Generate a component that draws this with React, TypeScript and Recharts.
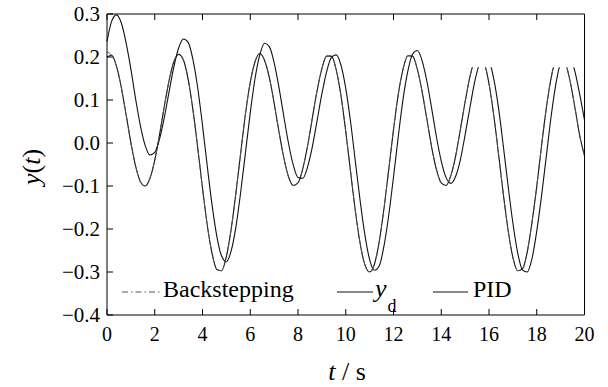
import React from 'react'
import { LineChart, Line, XAxis, YAxis, ReferenceArea } from 'recharts'

// time grid, s
const tSec = [
  0, 0.2, 0.4, 0.6, 0.8, 1, 1.2, 1.4, 1.6, 1.8,
  2, 2.2, 2.4, 2.6, 2.8, 3, 3.2, 3.4, 3.6, 3.8,
  4, 4.2, 4.4, 4.6, 4.8, 5, 5.2, 5.4, 5.6, 5.8,
  6, 6.2, 6.4, 6.6, 6.8, 7, 7.2, 7.4, 7.6, 7.8,
  8, 8.2, 8.4, 8.6, 8.8, 9, 9.2, 9.4, 9.6, 9.8,
  10, 10.2, 10.4, 10.6, 10.8, 11, 11.2, 11.4, 11.6, 11.8,
  12, 12.2, 12.4, 12.6, 12.8, 13, 13.2, 13.4, 13.6, 13.8,
  14, 14.2, 14.4, 14.6, 14.8, 15, 15.2, 15.4, 15.6, 15.8,
  16, 16.2, 16.4, 16.6, 16.8, 17, 17.2, 17.4, 17.6, 17.8,
  18, 18.2, 18.4, 18.6, 18.8, 19, 19.2, 19.4, 19.6, 19.8,
  20,
]

const ydRef = [
  0.200, 0.204, 0.178, 0.129, 0.066, 0.001, -0.054, -0.090, -0.100, -0.082,
  -0.040, 0.019, 0.085, 0.145, 0.189, 0.206, 0.193, 0.148, 0.077, -0.011,
  -0.105, -0.191, -0.257, -0.294, -0.297, -0.264, -0.201, -0.116, -0.023, 0.068,
  0.141, 0.189, 0.208, 0.192, 0.152, 0.093, 0.027, -0.033, -0.078, -0.099,
  -0.093, -0.060, -0.007, 0.058, 0.122, 0.173, 0.202, 0.202, 0.170, 0.110,
  0.027, -0.066, -0.157, -0.233, -0.283, -0.300, -0.282, -0.230, -0.153, -0.062,
  0.031, 0.113, 0.172, 0.203, 0.202, 0.171, 0.119, 0.055, -0.010, -0.062,
  -0.093, -0.099, -0.076, -0.031, 0.031, 0.096, 0.154, 0.192, 0.205, 0.187,
  0.138, 0.064, -0.026, -0.119, -0.203, -0.266, -0.297, -0.293, -0.254, -0.185,
  -0.101, -0.007, 0.081, 0.151, 0.194, 0.206, 0.187, 0.143, 0.082, 0.017,
  -0.030,
]

const backstepping = [
  0.212, 0.203, 0.178, 0.129, 0.066, 0.001, -0.054, -0.090, -0.100, -0.082,
  -0.040, 0.019, 0.085, 0.145, 0.189, 0.206, 0.193, 0.148, 0.077, -0.011,
  -0.105, -0.191, -0.257, -0.294, -0.297, -0.264, -0.201, -0.116, -0.023, 0.068,
  0.141, 0.189, 0.208, 0.192, 0.152, 0.093, 0.027, -0.033, -0.078, -0.099,
  -0.093, -0.060, -0.007, 0.058, 0.122, 0.173, 0.202, 0.202, 0.170, 0.110,
  0.027, -0.066, -0.157, -0.233, -0.283, -0.300, -0.282, -0.230, -0.153, -0.062,
  0.031, 0.113, 0.172, 0.203, 0.202, 0.171, 0.119, 0.055, -0.010, -0.062,
  -0.093, -0.099, -0.076, -0.031, 0.031, 0.096, 0.154, 0.192, 0.205, 0.187,
  0.138, 0.064, -0.026, -0.119, -0.203, -0.266, -0.297, -0.293, -0.254, -0.185,
  -0.101, -0.007, 0.081, 0.151, 0.194, 0.206, 0.187, 0.143, 0.082, 0.017,
  -0.030,
]

const pid = [
  0.236, 0.284, 0.298, 0.279, 0.233, 0.172, 0.102, 0.040, -0.006, -0.028,
  -0.022, 0.009, 0.059, 0.119, 0.177, 0.221, 0.242, 0.234, 0.194, 0.128,
  0.041, -0.054, -0.144, -0.217, -0.263, -0.276, -0.251, -0.195, -0.114, -0.022,
  0.070, 0.150, 0.205, 0.232, 0.224, 0.187, 0.130, 0.064, 0.000, -0.051,
  -0.080, -0.082, -0.056, -0.009, 0.052, 0.114, 0.166, 0.199, 0.205, 0.181,
  0.127, 0.050, -0.042, -0.133, -0.213, -0.271, -0.296, -0.286, -0.240, -0.168,
  -0.079, 0.015, 0.102, 0.167, 0.207, 0.215, 0.191, 0.143, 0.080, 0.014,
  -0.042, -0.080, -0.094, -0.078, -0.039, 0.019, 0.082, 0.142, 0.184, 0.203,
  0.192, 0.149, 0.081, -0.007, -0.100, -0.186, -0.255, -0.295, -0.300, -0.269,
  -0.205, -0.123, -0.031, 0.061, 0.137, 0.188, 0.210, 0.201, 0.166, 0.113,
  0.053,
]

const xTicks = [0, 2, 4, 6, 8, 10, 12, 14, 16, 18, 20]
const yTicks = [-0.4, -0.3, -0.2, -0.1, 0, 0.1, 0.2, 0.3]

const FONT = "'Liberation Serif', 'DejaVu Serif', 'Times New Roman', Times, serif"

const rows = tSec.map((t, i) => ({ t, yd: ydRef[i], bs: backstepping[i], pid: pid[i] }))

const fmtY = (v: number) => (v < -1e-9 ? '\u2212' : '') + Math.abs(v).toFixed(1)
const noLabel = () => <g />

export default function App() {
  return (
    <div style={{ position: 'absolute', left: 0, top: 0, width: 608, height: 387, background: '#fff', fontFamily: FONT }}>
      <LineChart
        width={608}
        height={387}
        data={rows}
        margin={{ top: 13, right: 22.5, left: 47, bottom: 32 }}
        style={{ fontFamily: FONT }}
      >
        <XAxis
          xAxisId="b"
          dataKey="t"
          type="number"
          domain={[0, 20]}
          ticks={xTicks}
          height={40}
          tickSize={-6}
          tickMargin={18}
          stroke="#000"
          tick={{ fill: '#000', fontSize: 20, style: { fontFamily: FONT } }}
        />
        <XAxis
          xAxisId="top"
          orientation="top"
          dataKey="t"
          type="number"
          domain={[0, 20]}
          ticks={xTicks}
          height={1}
          tickSize={-6}
          stroke="#000"
          tick={noLabel}
        />
        <YAxis
          yAxisId="l"
          type="number"
          domain={[-0.4, 0.3]}
          ticks={yTicks}
          width={60}
          tickSize={-6}
          tickMargin={13}
          tickFormatter={fmtY}
          stroke="#000"
          tick={{ fill: '#000', fontSize: 21, style: { fontFamily: FONT } }}
        />
        <YAxis
          yAxisId="r"
          orientation="right"
          type="number"
          domain={[-0.4, 0.3]}
          ticks={yTicks}
          width={1}
          tickSize={-6}
          stroke="#000"
          tick={noLabel}
        />

        <Line xAxisId="b" yAxisId="l" dataKey="pid" type="monotone" stroke="#111" strokeWidth={1.1} dot={false} isAnimationActive={false} />
        <Line xAxisId="b" yAxisId="l" dataKey="yd" type="monotone" stroke="#111" strokeWidth={1.1} dot={false} isAnimationActive={false} />
        <Line
          xAxisId="b"
          yAxisId="l"
          dataKey="bs"
          type="monotone"
          stroke="#555"
          strokeWidth={1}
          strokeDasharray="6 3 1.5 3"
          dot={false}
          isAnimationActive={false}
        />

        {/* blank patch over the peaks at the upper right, as in the source */}
        <ReferenceArea xAxisId="b" yAxisId="l" x1={14.5} x2={19.7} y1={0.176} y2={0.28} fill="#fff" fillOpacity={1} stroke="none" zIndex={600} />
      </LineChart>

      <svg width={608} height={387} style={{ position: 'absolute', left: 0, top: 0, pointerEvents: 'none', fontFamily: FONT }}>
        <text x={40} y={167} fontSize={26} textAnchor="middle" transform="rotate(-90 40 167)" fill="#000">
          <tspan fontStyle="italic">y</tspan>(<tspan fontStyle="italic">t</tspan>)
        </text>
        <text x={347} y={380} fontSize={26} textAnchor="middle" fill="#000">
          <tspan fontStyle="italic">t</tspan> / s
        </text>

        {/* legend */}
        <line x1={122} x2={160} y1={292} y2={292} stroke="#555" strokeWidth={1} strokeDasharray="6 3 1.5 3" />
        <text x={163} y={297} fontSize={24} fill="#000">Backstepping</text>
        <line x1={337} x2={373} y1={292} y2={292} stroke="#111" strokeWidth={1.2} />
        <text x={375} y={297} fontSize={26} fill="#000">
          <tspan fontStyle="italic">y</tspan>
          <tspan fontSize={18} dx={1} dy={15}>d</tspan>
        </text>
        <line x1={433} x2={468} y1={292} y2={292} stroke="#111" strokeWidth={1.2} />
        <text x={473} y={297} fontSize={24} fill="#000">PID</text>
      </svg>
    </div>
  )
}
